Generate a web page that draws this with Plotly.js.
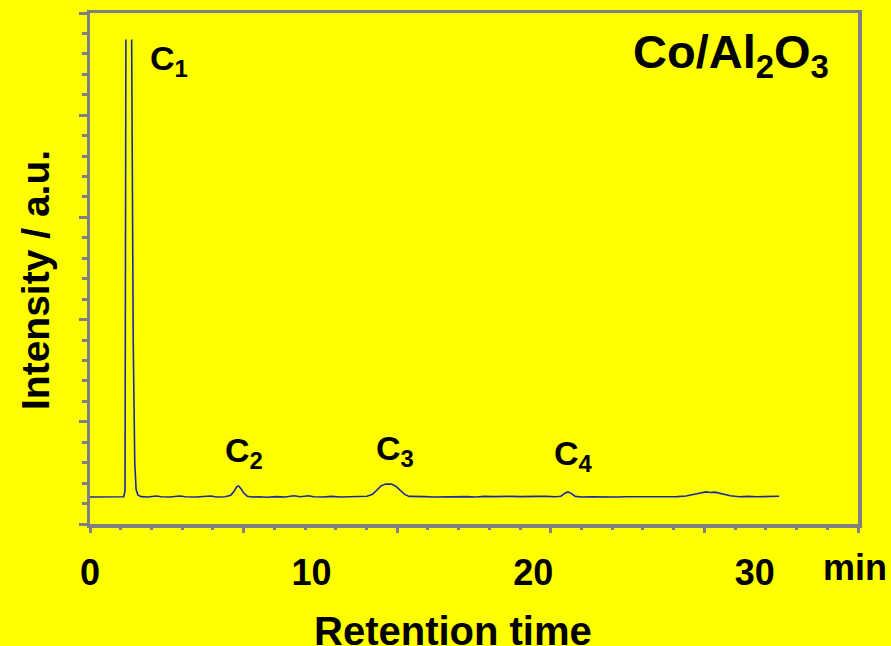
<!DOCTYPE html>
<html>
<head>
<meta charset="utf-8">
<script src="https://cdn.plot.ly/plotly-3.0.1.min.js"></script>
<style>
  html, body { margin: 0; padding: 0; background: #ffff00; }
  #chart { width: 891px; height: 646px; }
</style>
</head>
<body>
<div id="chart"></div>
<script>
// Gas chromatogram of the Co/Al2O3 product stream (detector signal vs. retention time)
const retentionTime = [
  0.0, 0.5, 1.0, 1.3, 1.52, 1.58, 1.62, 1.75, 1.88, 1.95, 2.02, 2.08, 2.16, 2.3, 2.6,
  3.0, 3.2, 3.6, 4.06, 4.3, 4.8, 5.2, 5.46, 5.7, 6.1, 6.35, 6.5, 6.62, 6.7, 6.8, 6.95,
  7.1, 7.3, 7.6, 8.0, 8.4, 8.8, 9.2, 9.5, 9.85, 10.1, 10.5, 10.9, 11.3, 11.7, 12.1,
  12.5, 12.75, 12.95, 13.15, 13.35, 13.6, 13.8, 14.0, 14.2, 14.4, 14.7, 15.1, 15.5,
  15.9, 16.3, 16.6, 17.0, 17.4, 17.8, 18.2, 18.6, 19.0, 19.4, 19.8, 20.2, 20.6, 21.0,
  21.25, 21.45, 21.57, 21.72, 21.9, 22.2, 22.6, 23.0, 23.4, 23.8, 24.2, 24.6, 25.0,
  25.5, 26.0, 26.5, 26.9, 27.2, 27.5, 27.8, 28.0, 28.2, 28.5, 28.9, 29.3, 29.7, 30.1,
  30.5, 30.8, 31.1
];
// the C1 signal runs off scale, so its apex is left open (null)
const intensity = [
  1.32, 1.33, 1.32, 1.34, 1.33, 1.6, 23.7, null, 23.7, 9.0, 3.0, 1.7, 1.42, 1.34, 1.32,
  1.37, 1.33, 1.32, 1.37, 1.33, 1.32, 1.33, 1.37, 1.32, 1.33, 1.4, 1.6, 1.82, 1.86, 1.75, 1.5,
  1.36, 1.32, 1.33, 1.31, 1.34, 1.32, 1.38, 1.33, 1.38, 1.33, 1.32, 1.35, 1.32, 1.34, 1.33,
  1.36, 1.45, 1.65, 1.88, 1.96, 1.95, 1.85, 1.65, 1.45, 1.35, 1.33, 1.34, 1.32,
  1.33, 1.35, 1.33, 1.34, 1.32, 1.35, 1.34, 1.36, 1.35, 1.34, 1.36, 1.35, 1.35, 1.33,
  1.36, 1.52, 1.57, 1.5, 1.35, 1.32, 1.33, 1.32, 1.34, 1.32, 1.33, 1.33, 1.33,
  1.34, 1.33, 1.34, 1.37, 1.45, 1.5, 1.57, 1.54, 1.56, 1.48, 1.38, 1.33, 1.35, 1.33,
  1.35, 1.33, 1.36
];

// peak labels and axis tick labels
const peakNames = ['C<sub>1</sub>', 'C<sub>2</sub>', 'C<sub>3</sub>', 'C<sub>4</sub>'];
const xTickValues = [0, 10, 20, 30];
const xTickText = ['0', '10', '20', '30'];

const FONT = 'Arial, "Liberation Sans", sans-serif';
const GREY = '#808080';
const BLUE = '#1a2a9e';

const traces = [
  {
    x: retentionTime, y: intensity,
    type: 'scatter', mode: 'lines',
    line: { color: BLUE, width: 1.6 },
    connectgaps: false,
    hoverinfo: 'skip',
    xaxis: 'x', yaxis: 'y'
  },
  // carrier for the tick-mark axis
  { x: [], y: [], type: 'scatter', mode: 'lines', xaxis: 'x2', yaxis: 'y', hoverinfo: 'skip', showlegend: false }
];

const peakPos = [[0.0755, 0.908], [0.2005, 0.139], [0.397, 0.143], [0.629, 0.135]];
const annotations = peakNames.map((t, i) => ({
  text: t, xref: 'paper', yref: 'paper', x: peakPos[i][0], y: peakPos[i][1],
  xanchor: i === 0 ? 'left' : 'center', yanchor: 'middle', showarrow: false,
  font: { family: FONT, size: 34, color: '#000', weight: 'bold' }
}));

annotations.push(
  { text: 'Co/Al<sub>2</sub>O<sub>3</sub>', xref: 'paper', yref: 'paper', x: 0.835, y: 0.918,
    xanchor: 'center', yanchor: 'middle', showarrow: false,
    font: { family: FONT, size: 47, color: '#000', weight: 'bold' } },
  { text: 'min', xref: 'paper', yref: 'paper', x: 0.996, y: -0.086,
    xanchor: 'center', yanchor: 'middle', showarrow: false,
    font: { family: FONT, size: 36, color: '#000', weight: 'bold' } },
  { text: 'Retention time', xref: 'paper', yref: 'paper', x: 0.473, y: -0.21,
    xanchor: 'center', yanchor: 'middle', showarrow: false,
    font: { family: FONT, size: 40, color: '#000', weight: 'bold' } },
  { text: 'Intensity / a.u.', xref: 'paper', yref: 'paper', x: -0.07, y: 0.478,
    xanchor: 'center', yanchor: 'middle', showarrow: false, textangle: -90,
    font: { family: FONT, size: 39, color: '#000', weight: 'bold' } }
);

const layout = {
  width: 891, height: 646,
  margin: { l: 90, r: 33, t: 13, b: 122 },
  paper_bgcolor: '#ffff00', plot_bgcolor: '#ffff00',
  showlegend: false,
  xaxis: {
    range: [0, 34.66], showgrid: false, zeroline: false,
    tickmode: 'array', tickvals: xTickValues, ticktext: xTickText,
    ticks: '', ticklabelstandoff: 14,
    tickfont: { family: FONT, size: 36, color: '#000', weight: 'bold' },
    showline: true, linecolor: GREY, linewidth: 3.5, mirror: true
  },
  xaxis2: {
    overlaying: 'x', anchor: 'y', side: 'bottom',
    range: [0, 25], showgrid: false, zeroline: false, showticklabels: false,
    tickmode: 'linear', tick0: 0, dtick: 5,
    ticks: 'outside', ticklen: 8, tickwidth: 3, tickcolor: GREY,
    minor: { dtick: 1, ticks: 'outside', ticklen: 5, tickwidth: 3, tickcolor: GREY, showgrid: false },
    showline: false
  },
  yaxis: {
    range: [0, 25], showgrid: false, zeroline: false, showticklabels: false,
    tickmode: 'linear', tick0: 0, dtick: 5,
    ticks: 'outside', ticklen: 8, tickwidth: 3, tickcolor: GREY,
    minor: { dtick: 1, ticks: 'outside', ticklen: 5, tickwidth: 3, tickcolor: GREY, showgrid: false },
    showline: true, linecolor: GREY, linewidth: 3.5, mirror: true
  },
  annotations: annotations
};

Plotly.newPlot('chart', traces, layout, { displayModeBar: false, staticPlot: true });
</script>
</body>
</html>
